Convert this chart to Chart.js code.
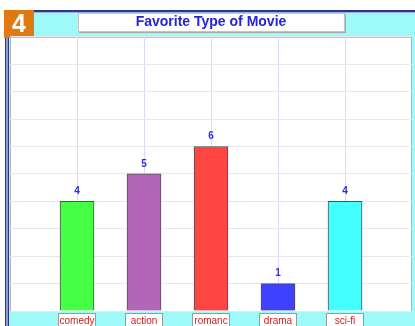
<!DOCTYPE html>
<html>
<head>
<meta charset="utf-8">
<title>Favorite Type of Movie</title>
<script src="https://cdn.jsdelivr.net/npm/chart.js@4.4.1/dist/chart.umd.min.js"></script>
<style>
  html, body { margin: 0; padding: 0; background: #fff; }
  canvas { display: block; }
</style>
</head>
<body>
<canvas id="movies" width="415" height="326"></canvas>
<script>
// movie types and how many people picked each
var movieTypes = ["comedy", "action", "romanc", "drama", "sci-fi"];
var votes = [4, 5, 6, 1, 4];
var barColors = ["#44ff44", "#b266b8", "#ff4444", "#4040ff", "#44ffff"];
var yTicks = [0, 10];

// bars sit at x = 1..5 on a 0..6 linear axis
var points = [];
for (var i = 0; i < votes.length; i++) {
    points.push({ x: i + 1, y: votes[i] });
}

// frame, badge, title box and plot background
var backdrop = {
    id: "backdrop",
    beforeDraw: function (chart) {
        var ctx = chart.ctx;
        var a = chart.chartArea;
        ctx.save();
        ctx.fillStyle = "#ffffff";
        ctx.fillRect(0, 0, chart.width, chart.height);
        ctx.fillStyle = "#9ef9f9";
        ctx.fillRect(8, 12, chart.width - 8, chart.height - 12);

        // navy frame
        ctx.fillStyle = "#24398c";
        ctx.fillRect(34, 10, chart.width - 34, 2);
        ctx.fillRect(5, 38, 1.5, chart.height - 38);
        ctx.fillRect(7.5, 38, 1.5, chart.height - 38);
        ctx.fillStyle = "#9fb0dc";
        ctx.fillRect(34, 12, chart.width - 34, 1);

        // number badge
        ctx.fillStyle = "#e07a10";
        ctx.fillRect(4, 10, 30, 28);
        ctx.fillStyle = "#ffffff";
        ctx.font = "bold 25px 'Liberation Sans', Arial, sans-serif";
        ctx.textAlign = "center";
        ctx.textBaseline = "middle";
        ctx.fillText("4", 19, 25);

        // title box
        ctx.fillStyle = "#a8a8a8";
        ctx.fillRect(79, 14, 267, 19);
        ctx.fillStyle = "#ffffff";
        ctx.fillRect(78, 13, 266, 18);
        ctx.strokeStyle = "#c4c4c4";
        ctx.lineWidth = 1;
        ctx.strokeRect(78.5, 13.5, 266, 18);

        // plot area
        ctx.fillStyle = "#ffffff";
        ctx.fillRect(a.left, a.top, a.right - a.left, a.bottom - a.top);
        ctx.strokeStyle = "#b4b4b4";
        ctx.strokeRect(a.left + 0.5, a.top + 0.5, a.right - a.left - 1, a.bottom - a.top);
        ctx.restore();
    },
    afterDraw: function (chart) {
        var ctx = chart.ctx;
        var meta = chart.getDatasetMeta(0);
        var xs = chart.scales.x;
        var a = chart.chartArea;
        ctx.save();
        ctx.textAlign = "center";

        // values above the bars
        ctx.fillStyle = "#2f2fe0";
        ctx.font = "bold 10px 'Liberation Sans', Arial, sans-serif";
        ctx.textBaseline = "bottom";
        meta.data.forEach(function (bar, i) {
            ctx.fillText(String(votes[i]), bar.x, bar.y - 5);
        });

        // category labels in little boxes under the plot
        ctx.font = "10px 'Liberation Sans', Arial, sans-serif";
        ctx.textBaseline = "middle";
        movieTypes.forEach(function (name, i) {
            var cx = Math.round(xs.getPixelForValue(i + 1));
            ctx.fillStyle = "#ffffff";
            ctx.fillRect(cx - 19, a.bottom + 2, 38, 16);
            ctx.strokeStyle = "#9a9a9a";
            ctx.strokeRect(cx - 18.5, a.bottom + 2.5, 37, 16);
            ctx.fillStyle = "#cc2222";
            ctx.fillText(name, cx, a.bottom + 10);
        });
        ctx.restore();
    }
};

var config = {
    type: "bar",
    data: {
        datasets: [{
            label: "votes",
            data: points,
            backgroundColor: barColors,
            borderColor: "#505050",
            borderWidth: 1,
            barThickness: 34
        }]
    },
    options: {
        responsive: false,
        animation: false,
        devicePixelRatio: 1,
        layout: { padding: { left: 10, right: 3, top: 12, bottom: 15 } },
        plugins: {
            legend: { display: false },
            tooltip: { enabled: false },
            title: {
                display: true,
                text: "Favorite Type of Movie",
                color: "#2424d8",
                font: { family: "'Liberation Sans', Arial, sans-serif", size: 14, weight: "bold" },
                padding: { top: 2, bottom: 6 }
            }
        },
        scales: {
            x: {
                type: "linear",
                min: 0,
                max: 6,
                offset: false,
                border: { display: false },
                ticks: { display: false, stepSize: 1 },
                grid: {
                    offset: false,
                    drawTicks: false,
                    color: function (c) {
                        var v = c.tick ? c.tick.value : 0;
                        return (v >= 1 && v <= 5) ? "#d8d8f8" : "rgba(0,0,0,0)";
                    }
                }
            },
            y: {
                min: yTicks[0],
                max: yTicks[1],
                border: { display: false },
                ticks: { display: false, stepSize: 1 },
                grid: { drawTicks: false, color: "#e6e6ee" }
            }
        }
    },
    plugins: [backdrop]
};

var movieChart = new Chart(document.getElementById("movies"), config);
</script>
</body>
</html>
